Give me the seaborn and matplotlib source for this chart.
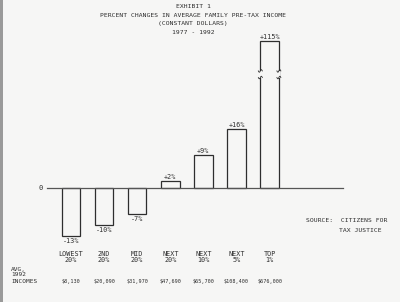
import numpy as np
import pandas as pd
import matplotlib
matplotlib.use("Agg")
import matplotlib.pyplot as plt
import seaborn as sns
from matplotlib.patches import Rectangle

# ---- data ----
groups = ["LOWEST\n20%", "2ND\n20%", "MID\n20%", "NEXT\n20%", "NEXT\n10%", "NEXT\n5%", "TOP\n1%"]
changes = [-13, -10, -7, 2, 9, 16, 115]
change_labels = ["-13%", "-10%", "-7%", "+2%", "+9%", "+16%", "+115%"]
incomes = ["$8,130", "$20,090", "$31,970", "$47,690", "$65,700", "$108,400", "$676,000"]
title_lines = ["EXHIBIT 1", "PERCENT CHANGES IN AVERAGE FAMILY PRE-TAX INCOME",
               "(CONSTANT DOLLARS)", "1977 - 1992"]
source_lines = ["SOURCE:  CITIZENS FOR", "TAX JUSTICE"]
row_header = ["AVG,", "1992", "INCOMES"]
axis_cap = 40      # the tallest bar is drawn with a scale break at this height
break_at = 31

BG = "#f6f6f5"
INK = "#2e2e2e"
FONT = "DejaVu Sans Mono"

df = pd.DataFrame({"group": groups, "change": changes})
df["shown"] = np.minimum(df["change"], axis_cap)

W, H = 400, 302
fig = plt.figure(figsize=(W / 100, H / 100), dpi=100, facecolor=BG)
ax = fig.add_axes([0, 0, 1, 1])
ax.set_facecolor(BG)

sns.barplot(data=df, x="group", y="shown", ax=ax, color=BG, edgecolor=INK,
            linewidth=0.9, width=0.56, saturation=1)

# pixel mapping: category 0 centre at x=71px, spacing 33.1px; zero at y=188px, 3.67px per %
sp, x0 = 33.1, 71.0
ppu, y0 = 3.67, 188.0
ax.set_xlim(-x0 / sp, (W - x0) / sp)
ax.set_ylim(-(H - y0) / ppu, y0 / ppu)
ax.axis("off")

def px_x(x):
    return (x - x0) / sp

# zero line
ax.plot([px_x(47), px_x(343)], [0, 0], color="#555555", lw=0.9, zorder=1)
ax.text(px_x(41), 0, "0", fontsize=5, family=FONT, color=INK, ha="center", va="center")

# value labels
for i, (v, lab) in enumerate(zip(df["shown"], change_labels)):
    if v >= 0:
        ax.text(i, v + 0.3, lab, fontsize=4.9, family=FONT, color=INK, ha="center", va="bottom")
    else:
        ax.text(i, v - 0.6, lab, fontsize=4.9, family=FONT, color=INK, ha="center", va="top")

# scale break on the truncated bar
for i, (v, s) in enumerate(zip(df["change"], df["shown"])):
    if v > s:
        for xe in (i - 0.28, i + 0.28):
            ax.add_patch(Rectangle((xe - 0.04, break_at - 0.9), 0.08, 1.8,
                                   facecolor=BG, edgecolor="none", zorder=5))
            t = np.linspace(-1, 1, 20)
            ax.plot(xe + 0.06 * t, break_at + 0.9 + 0.35 * np.sin(np.pi * t), color=INK, lw=0.6, zorder=6)
            ax.plot(xe + 0.06 * t, break_at - 0.9 + 0.35 * np.sin(np.pi * t), color=INK, lw=0.6, zorder=6)

# category labels and incomes
for i, (g, inc) in enumerate(zip(groups, incomes)):
    ax.text(i, -(257.5 - y0) / ppu, g, fontsize=4.9, family=FONT, color=INK,
            ha="center", va="center", linespacing=1.0)
    ax.text(i, -(281.5 - y0) / ppu, inc, fontsize=3.7, family=FONT, color=INK,
            ha="center", va="center")

def ftext(x, y, s, **kw):
    fig.text(x / W, 1 - y / H, s, family=FONT, color=INK, **kw)

for y, line in zip([7, 15.5, 24, 33], title_lines):
    ftext(193, y, line, fontsize=4.6, ha="center", va="center")

for y, line in zip([269, 275, 281.5], row_header):
    ftext(11, y, line, fontsize=4.4, ha="left", va="center")
ftext(306, 221, source_lines[0], fontsize=4.6, ha="left", va="center")
ftext(339, 231, source_lines[1], fontsize=4.6, ha="left", va="center")

# scanned page edge at left
fig.patches.append(Rectangle((0, 0), 2.5 / W, 1, transform=fig.transFigure,
                             facecolor="#9a9a9a", edgecolor="none"))

fig.savefig("out.png", dpi=100, facecolor=BG)
